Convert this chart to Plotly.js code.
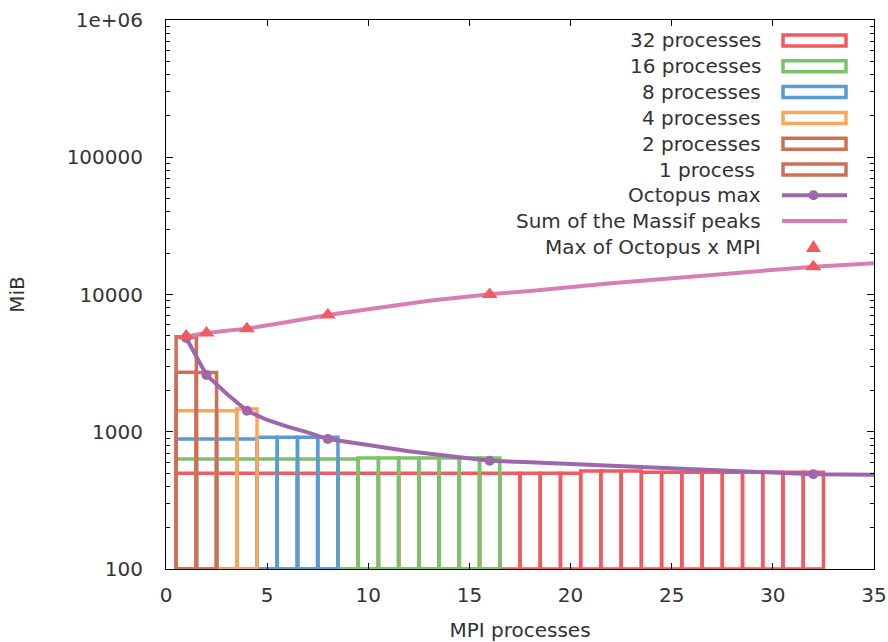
<!DOCTYPE html>
<html><head><meta charset="utf-8">
<script src="https://cdn.plot.ly/plotly-3.0.1.min.js"></script>
<style>html,body{margin:0;padding:0;background:#fff}</style>
</head><body><div id="chart" style="width:888px;height:642px"></div>
<script>
// ---- data (MiB per MPI rank) ----
const mem32 = [498,498,498,498,498,498,498,498,498,498,498,498,498,498,498,498,498,498,498,498,518,518,518,507,507,507,507,507,507,507,507,507];
const mem16 = [633,633,633,633,633,633,633,633,633,645,645,645,645,645,645,645];
const mem8  = [885,885,885,885,910,910,910,910];
const mem4  = [1420,1420,1420,1465];
const mem2  = [2710,2700];
const mem1  = [4930];
const seriesNames = ['32 processes','16 processes','8 processes','4 processes','2 processes','1 process\u00a0'];

const octX = [1,2,3,4,5,6,7,8,10,12,14,16,18,20,24,28,30,32,35];
const octY = [4820,2590,1890,1423,1218,1089,991,885,800,720,665,615,599,582,547,520,505,490,487];
const octMarkX = [1,2,4,8,16,32];

const massifX = [1,2,3,4,6,8,10,13,16,18,22,27,32,35];
const massifY = [4950,5250,5450,5640,6300,7080,7800,9000,10050,10600,12100,14000,15950,16870];

const mpiX = [1,2,4,8,16,32];
const mpiY = [4980,5250,5640,7080,10000,15900];

const xTickVals = [0,5,10,15,20,25,30,35];
const xTickText = ['0','5','10','15','20','25','30','35'];
const yTickVals = [100,1000,10000,100000,1000000];
const yTickText = ['100','1000','10000','100000','1e+06'];

// ---- styling ----
const RED='#F15A60', GREEN='#7AC36A', BLUE='#5A9BD4', ORANGE='#FAA75B', BROWN='#CE7058', PURPLE='#9E67AB', PINK='#D77FB4';
const TXT='#333';
const boxColors = [RED, GREEN, BLUE, ORANGE, BROWN, BROWN];
const boxData = [mem32, mem16, mem8, mem4, mem2, mem1];
const BASE = 100;

const traces = [];
boxData.forEach((vals, k) => {
  traces.push({
    type:'bar', name: seriesNames[k],
    x: vals.map((_, i) => i + 1),
    y: vals.map(v => v - BASE), base: BASE,
    width: 1,
    marker:{color:'rgba(0,0,0,0)', line:{color:boxColors[k], width:3.5}},
    cliponaxis:false, hoverinfo:'skip', showlegend:false
  });
});
traces.push({type:'scatter', mode:'lines', name:'Octopus max', x:octX, y:octY,
  line:{color:PURPLE, width:4}, showlegend:false});
traces.push({type:'scatter', mode:'markers', name:'Octopus max', x:octMarkX,
  y:octMarkX.map(x => octY[octX.indexOf(x)]),
  marker:{color:PURPLE, size:10, symbol:'circle'}, showlegend:false});
traces.push({type:'scatter', mode:'lines', name:'Sum of the Massif peaks', x:massifX, y:massifY,
  line:{color:PINK, width:4}, showlegend:false});
traces.push({type:'scatter', mode:'markers', name:'Max of Octopus x MPI', x:mpiX, y:mpiY,
  marker:{color:RED, size:14, symbol:'triangle-up'}, showlegend:false});

// ---- custom gnuplot-style key (text right-aligned, sample on the right) ----
const W=888, H=642, L=166, R=14, T=20, B=73;
const pw = W-L-R, ph = H-T-B;
const px2x = p => (p - L)/pw;
const py2y = p => (H - B - p)/ph;
const keyLabels = seriesNames.concat(['Octopus max','Sum of the Massif peaks','Max of Octopus x MPI']);
const keyKinds = ['box','box','box','box','box','box','linept','line','tri'];
const keyColors = boxColors.concat([PURPLE, PINK, RED]);
const shapes = [], annotations = [];
keyLabels.forEach((lab, i) => {
  const py = 40.5 + 25.8*i;
  annotations.push({xref:'paper', yref:'paper', x:px2x(763), y:py2y(py), xanchor:'right', yanchor:'middle',
    text:lab, showarrow:false, font:{family:'DejaVu Sans', size:20, color:TXT}});
  const c = keyColors[i];
  if (keyKinds[i]==='box') {
    shapes.push({type:'rect', xref:'paper', yref:'paper', x0:px2x(783), x1:px2x(846), y0:py2y(py+5.5), y1:py2y(py-5.5),
      line:{color:c, width:3.5}, fillcolor:'rgba(0,0,0,0)'});
  } else if (keyKinds[i]==='linept' || keyKinds[i]==='line') {
    shapes.push({type:'line', xref:'paper', yref:'paper', x0:px2x(782), x1:px2x(847), y0:py2y(py), y1:py2y(py),
      line:{color:c, width:4}});
    if (keyKinds[i]==='linept') {
      shapes.push({type:'circle', xref:'paper', yref:'paper', x0:px2x(808.5), x1:px2x(818.5), y0:py2y(py+5), y1:py2y(py-5),
        line:{color:c, width:0}, fillcolor:c});
    }
  } else {
    const cx = px2x(813.5), ax = 7.5/pw, top = py2y(py-7), bot = py2y(py+5);
    shapes.push({type:'path', xref:'paper', yref:'paper',
      path:`M ${cx-ax} ${bot} L ${cx+ax} ${bot} L ${cx} ${top} Z`, line:{color:c, width:0}, fillcolor:c});
  }
});

const minorVals = [];
[100,1000,10000,100000].forEach(d => { for (let m=2; m<=9; m++) minorVals.push(d*m); });

const layout = {
  width:W, height:H,
  margin:{l:L, r:R, t:T, b:B},
  paper_bgcolor:'#fff', plot_bgcolor:'#fff',
  font:{family:'DejaVu Sans', size:20, color:TXT},
  barmode:'overlay', showlegend:false,
  xaxis:{range:[0,35], tickmode:'array', tickvals:xTickVals, ticktext:xTickText,
    ticks:'inside', ticklen:6, tickcolor:'#000', tickwidth:1, mirror:'allticks',
    showline:true, linecolor:'#000', linewidth:1, showgrid:false, zeroline:false,
    ticklabelstandoff:8, title:{text:'MPI processes', standoff:16, font:{size:20}}},
  yaxis:{type:'log', range:[2,6], tickmode:'array', tickvals:yTickVals, ticktext:yTickText,
    ticks:'inside', ticklen:7, tickcolor:'#000', tickwidth:1, mirror:'allticks',
    showline:true, linecolor:'#000', linewidth:1, showgrid:false, zeroline:false,
    minor:{ticks:'inside', ticklen:4, tickcolor:'#000', tickvals:minorVals, showgrid:false},
    ticklabelstandoff:18, title:{text:'MiB', standoff:36, font:{size:20}}},
  shapes:shapes, annotations:annotations
};

Plotly.newPlot('chart', traces, layout, {displayModeBar:false, staticPlot:true});
</script></body></html>
